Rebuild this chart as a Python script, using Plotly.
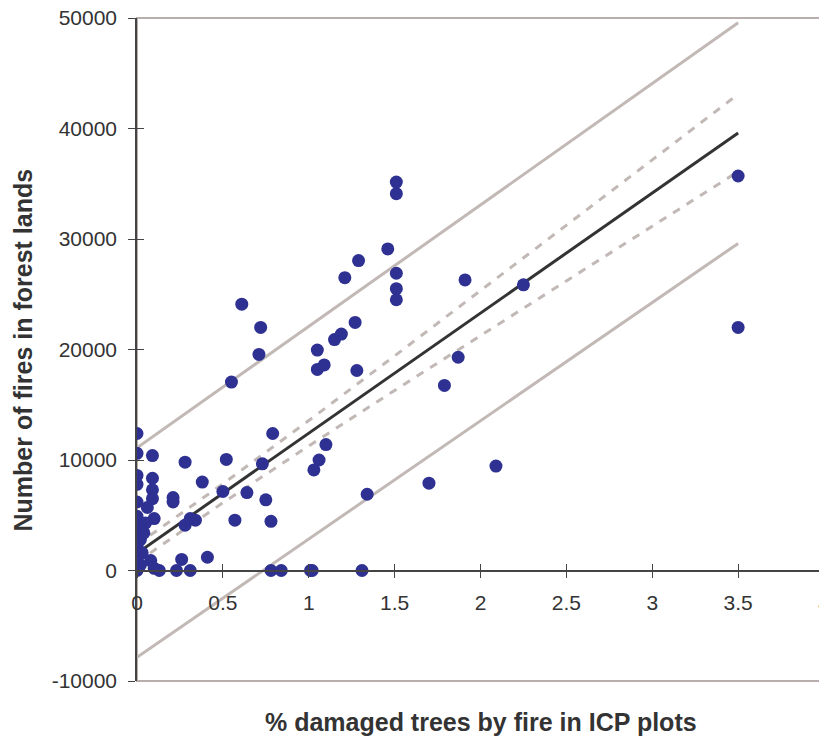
import plotly.graph_objects as go

# ---- data ----
damaged_pct = [0, 0, 0.09, 0.28, 0.52, 0.79, 0.73, 1.03, 1.06, 0, 0, 0.09, 0.38, 0.09, 0.09,
               0.21, 0.21, 0, 0.06, 0.50, 0.64, 0.75, 0, 0.10, 0.05, 0.28, 0.31, 0.34, 0.57, 0.78,
               0, 0, 0, 0, 0, 0, 0, 0, 0, 0, 0, 0.02, 0.03, 0.02, 0.04, 0.08, 0.10, 0.13, 0.26,
               0.41, 0.23, 0.31, 0.78, 0.84, 1.01, 1.02, 1.31, 1.34, 1.70, 2.09, 1.10, 0.55, 0.61,
               0.71, 0.72, 1.05, 1.05, 1.09, 1.15, 1.19, 1.21, 1.27, 1.28, 1.29, 1.46, 1.51, 1.51,
               1.51, 1.51, 1.51, 1.79, 1.87, 1.91, 2.25, 3.5, 3.5]
fires = [12400, 10600, 10400, 9800, 10050, 12400, 9650, 9100, 10000, 8600, 7800, 8350, 8000, 7300,
         6500, 6600, 6200, 6200, 5700, 7150, 7050, 6400, 4900, 4700, 4300, 4100, 4700, 4550, 4550,
         4450, 4000, 3500, 3000, 2600, 2200, 1800, 1400, 1000, 600, 250, 0, 500, 1600, 2800, 3400,
         900, 200, 0, 1000, 1200, 0, 0, 0, 0, 0, 0, 0, 6900, 7900, 9450, 11400, 17050, 24100,
         19550, 22000, 19950, 18200, 18600, 20900, 21400, 26500, 22450, 18100, 28050, 29100, 35150,
         34100, 26900, 25500, 24500, 16750, 19300, 26300, 25850, 35700, 22000]

fit_x = [0, 3.5]
fit_y = [1550, 39600]
pred_upper_y = [11100, 49570]
pred_lower_y = [-7850, 29600]

conf_x = [0, 0.1, 0.5, 1.0, 1.5, 2.0, 2.5, 3.0, 3.5]
conf_upper_y = [2370, 3440, 7840, 13570, 19420, 25310, 31230, 37160, 43100]
conf_lower_y = [730, 1840, 6130, 11270, 16300, 21270, 26220, 31160, 36100]

x_ticks = [0, 0.5, 1, 1.5, 2, 2.5, 3, 3.5, 4]
x_tick_text = ["0", "0.5", "1", "1.5", "2", "2.5", "3", "3.5", "4"]
y_ticks = [-10000, 0, 10000, 20000, 30000, 40000, 50000]
y_tick_text = ["-10000", "0", "10000", "20000", "30000", "40000", "50000"]

x_title = "% damaged trees by fire in ICP plots"
y_title = "Number of fires in forest lands"

FONT = "Liberation Sans, Arial, sans-serif"
TXT = "#333333"
BAND = "#c2b9b6"
DOT = "#2e3192"

fig = go.Figure()
fig.add_trace(go.Scatter(x=fit_x, y=pred_upper_y, mode="lines",
                         line=dict(color=BAND, width=3), hoverinfo="skip"))
fig.add_trace(go.Scatter(x=fit_x, y=pred_lower_y, mode="lines",
                         line=dict(color=BAND, width=3), hoverinfo="skip"))
fig.add_trace(go.Scatter(x=conf_x, y=conf_upper_y, mode="lines",
                         line=dict(color=BAND, width=3, dash="8px,8px"), hoverinfo="skip"))
fig.add_trace(go.Scatter(x=conf_x, y=conf_lower_y, mode="lines",
                         line=dict(color=BAND, width=3, dash="8px,8px"), hoverinfo="skip"))
fig.add_trace(go.Scatter(x=fit_x, y=fit_y, mode="lines",
                         line=dict(color="#333333", width=3), hoverinfo="skip"))
fig.add_trace(go.Scatter(x=damaged_pct, y=fires, mode="markers",
                         marker=dict(color=DOT, size=13, line=dict(width=0))))
# invisible trace on overlay axes (used only for the inner half of the cross ticks)
fig.add_trace(go.Scatter(x=[0], y=[0], xaxis="x2", yaxis="y2", mode="markers",
                         marker=dict(opacity=0), hoverinfo="skip"))

zero_pos = 10000 / 60000
x_range = [0, 4]

# the page body has an 8px margin, so the figure is sized to fit the 827x738 window
fig.update_layout(
    width=819, height=730,
    margin=dict(l=129, r=3, t=10, b=57, autoexpand=False),
    paper_bgcolor="white", plot_bgcolor="white",
    showlegend=False,
    font=dict(family=FONT, color=TXT),
    xaxis=dict(range=x_range, anchor="free", position=zero_pos, automargin=False,
               tickvals=x_ticks, ticktext=x_tick_text,
               ticks="outside", ticklen=7, tickcolor="#444", tickwidth=1.2,
               showline=True, linecolor="#444", linewidth=1.5,
               showgrid=False, zeroline=False,
               tickfont=dict(size=21, color=TXT, family=FONT),
               ticklabelstandoff=7, ticklabeloverflow="allow"),
    yaxis=dict(range=[-10000, 50000], automargin=False,
               tickvals=y_ticks, ticktext=y_tick_text,
               ticks="outside", ticklen=7, tickcolor="#444", tickwidth=1.2,
               showline=True, linecolor="#444", linewidth=1.5,
               showgrid=False, zeroline=False,
               tickfont=dict(size=21, color=TXT, family=FONT),
               ticklabelstandoff=7, ticklabeloverflow="allow"),
    xaxis2=dict(range=x_range, overlaying="x", anchor="free", position=zero_pos,
                automargin=False,
                tickvals=x_ticks, ticks="inside", ticklen=7, tickcolor="#444", tickwidth=1.2,
                showticklabels=False, showline=False, showgrid=False, zeroline=False),
    yaxis2=dict(range=[-10000, 50000], overlaying="y", anchor="x", automargin=False,
                tickvals=y_ticks, ticks="inside", ticklen=7, tickcolor="#444", tickwidth=1.2,
                showticklabels=False, showline=False, showgrid=False, zeroline=False),
    shapes=[dict(type="rect", xref="paper", yref="paper", x0=0, x1=1, y0=0, y1=1,
                 line=dict(color="#b8aeab", width=2), layer="below")],
    annotations=[
        dict(text=x_title, xref="paper", yref="paper", x=0.5, y=-0.062,
             xanchor="center", yanchor="middle", showarrow=False,
             font=dict(size=25, color=TXT, family=FONT, weight="bold")),
        dict(text=y_title, xref="paper", yref="paper", x=-0.166, y=0.5,
             xanchor="center", yanchor="middle", showarrow=False, textangle=-90,
             font=dict(size=25, color=TXT, family=FONT, weight="bold")),
    ],
)

fig.write_html("out.html")
